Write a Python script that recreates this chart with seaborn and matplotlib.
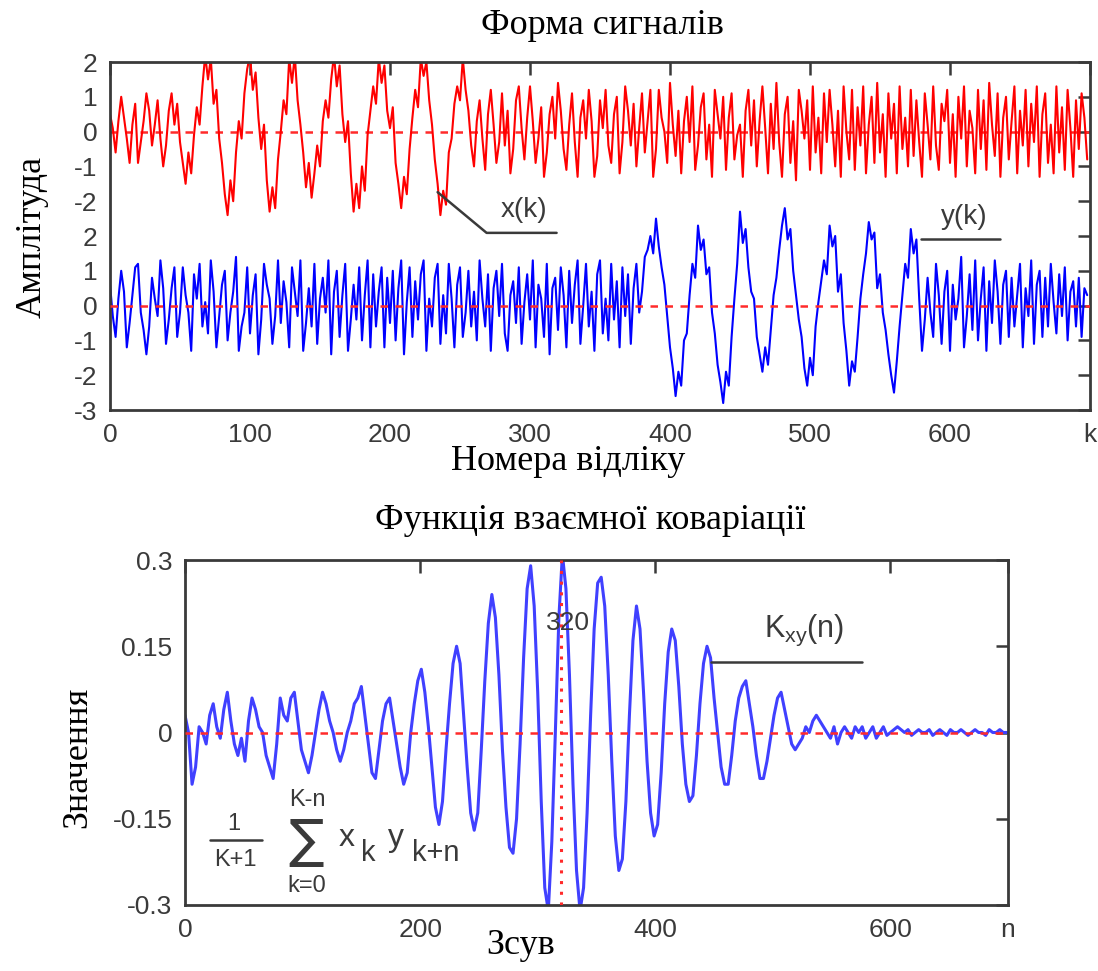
import numpy as np
import matplotlib
matplotlib.use("Agg")
import matplotlib.pyplot as plt
from matplotlib.lines import Line2D
import seaborn as sns

# ---- data -------------------------------------------------------------
# sample index step used for the two signals
K_STEP = 2
# input signal x(k)
x_sig = [
    0.5, 0.1, -0.6, 0.3, 1.0, 0.4, -0.2, -0.9, 0.2, 0.8,
    -0.9, -0.3, 0.3, 1.1, 0.6, -0.4, 0.2, 0.9, -0.2, -1.0,
    -0.4, 0.6, 1.1, 0.2, 0.8, -0.3, -0.9, -1.5, -0.6, -1.2,
    -0.1, 0.7, 0.2, 1.3, 2.2, 1.5, 2.1, 0.8, 1.2, -0.2,
    -0.9, -1.8, -2.4, -1.4, -2.0, -0.6, 0.3, -0.2, 1.1, 1.8,
    2.2, 1.2, 1.7, 0.4, -0.5, 0.2, -1.4, -2.3, -1.6, -2.2,
    -0.8, 0.0, 0.9, 0.5, 2.1, 1.4, 2.2, 0.9, 0.2, -0.6,
    -1.6, -0.9, -1.9, -1.2, -0.4, -1.0, 0.3, 0.9, 0.4, 1.5,
    2.2, 1.3, 1.9, 0.5, -0.3, 0.3, -1.2, -2.3, -1.5, -2.2,
    -1.0, -1.7, -0.1, 0.6, 1.3, 0.8, 2.1, 1.4, 1.9, 0.6,
    0.1, 0.7, -0.9, -1.5, -2.2, -1.3, -1.8, -0.5, 0.4, 1.2,
    0.7, 2.1, 1.6, 2.0, 0.9, 0.2, -0.8, -1.5, -2.4, -1.7,
    -2.1, -0.6, -0.2, 0.8, 1.3, 0.9, 2.1, 1.2, 0.6, -0.4,
    -1.0, 0.3, 0.9, -0.2, -1.1, 0.5, 1.2, 0.2, -0.9, -0.3,
    1.1, -0.4, 0.6, -1.2, -0.5, 0.9, 1.3, 0.1, -0.8, 0.4,
    1.3, 0.3, -0.9, -0.2, 0.7, -1.3, -0.6, 0.5, 1.0, -0.2,
    1.4, 0.6, -0.5, -1.1, 0.2, 1.1, -0.3, -1.3, 0.4, 0.9,
    -0.2, 1.2, 0.3, -1.3, -0.7, 0.9, 0.1, 1.2, -0.4, -0.9,
    0.5, 1.0, -1.2, -0.3, 1.3, 0.6, -0.4, 0.8, -1.0, 0.1,
    1.1, -0.6, 0.3, 1.2, -1.3, -0.5, 1.2, 0.4, 0.0, -0.9,
    1.4, 0.2, -0.7, 0.6, -1.2, 0.3, 1.0, -0.3, 1.3, -1.1,
    -0.4, 0.7, 1.1, -0.8, 0.2, -1.3, 1.2, 0.5, -0.2, 1.0,
    -1.1, 0.4, 1.1, -0.8, -0.1, 0.2, -1.3, 0.6, 1.2, -0.4,
    0.9, -1.0, 0.3, 1.3, 0.1, -1.2, 0.8, -0.5, 1.4, -0.3,
    -1.3, 0.5, 1.0, -0.9, 0.3, -1.4, 1.2, 0.6, -0.2, 0.9,
    -1.1, 1.3, -0.6, 0.4, -1.2, 1.1, -0.3, 1.2, 0.2, -1.0,
    0.6, -1.3, 1.3, 0.0, -0.8, 1.2, -1.1, 0.7, -0.4, 1.3,
    -1.2, 0.2, 1.0, -0.9, 1.4, -0.6, 0.5, -1.3, 1.1, -0.2,
    0.8, -1.2, 1.3, -0.5, 0.4, -1.0, 1.2, -0.7, 0.9, -0.3,
    -1.3, 1.1, 0.2, -0.8, 1.3, -0.4, -1.1, 0.8, 0.3, 1.2,
    -0.9, 0.5, -1.3, 1.0, -0.2, 1.3, -1.0, 0.6, 0.1, -1.2,
    1.2, -0.5, 0.9, -1.1, 1.4, 0.2, -0.7, 1.1, -1.3, 0.4,
    1.0, -0.8, 0.3, 1.3, -1.2, 0.6, -0.4, 1.2, -1.0, 0.8,
    -0.3, 1.3, -1.3, 0.5, 1.1, -0.9, 0.2, -1.2, 1.3, -0.6,
    0.7, -1.1, 1.2, 0.1, -1.3, 0.9, -0.5, 1.1, 0.4, -0.8,
]
# output signal y(k)
y_sig = [
    0.6, -0.3, -0.9, 0.2, 1.0, 0.4, -1.2, -0.5, 0.3, 1.1,
    1.2, -0.2, -0.7, -1.4, -0.6, 0.8, 0.2, -0.3, 1.3, 0.5,
    -1.1, -0.4, 0.5, 1.1, -0.9, -0.2, 1.1, 0.3, -0.2, -1.3,
    0.9, 0.2, 1.2, -0.6, 0.1, -0.8, 1.3, 0.4, -1.2, -0.3,
    0.6, 1.0, -1.0, -0.2, 0.4, 1.4, -1.3, -0.6, -0.2, 1.1,
    -0.8, 0.3, 0.9, -1.4, -0.4, 1.2, 0.6, 0.2, -1.1, -0.3,
    1.3, -0.5, 0.7, 0.1, -1.2, 1.1, 0.4, -0.3, 1.3, -1.3,
    -0.5, 0.5, -0.6, 1.2, -1.1, 0.2, 0.8, -0.2, 1.3, -1.4,
    0.4, 1.0, -0.9, 0.3, 1.2, -1.3, -0.4, 0.6, -0.4, 1.1,
    -1.0, 0.3, 1.3, -1.2, 0.9, -0.6, 0.4, 1.1, -1.2, 0.8,
    -0.5, 1.0, -1.0, 0.5, 1.3, -1.4, 0.1, 1.1, -0.9, 0.7,
    -0.4, 0.9, 1.3, -1.3, 0.2, -0.6, 0.8, 1.2, -1.1, 0.3,
    -0.8, 1.2, 0.2, -1.2, 0.6, 1.1, -0.9, -0.2, 1.0, -0.6,
    0.4, -1.0, 1.3, 0.2, -0.6, 0.9, -1.3, 0.5, 1.0, -0.3,
    1.2, -0.8, -1.3, 0.3, 0.7, -0.5, 1.1, -1.1, 0.1, 0.9,
    -0.4, 1.3, -1.2, 0.6, 0.2, -0.9, 1.2, -1.4, 0.5, 0.8,
    -0.7, 1.1, 0.3, -1.2, 1.0, -0.5, 0.6, 1.3, -1.1, 0.0,
    1.2, -0.6, 0.4, -1.3, 0.9, 1.3, -0.8, 0.2, -1.0, 1.2,
    -0.4, 0.7, -1.2, 1.1, -0.3, 0.9, -1.1, 0.5, 1.2, -0.2,
    0.4, 1.4, 1.6, 2.0, 1.5, 2.5, 1.7, 1.1, 0.6, -0.3,
    -1.2, -1.8, -2.6, -1.9, -2.3, -1.0, -0.8, 0.3, 1.2, 0.8,
    2.3, 1.6, 1.9, 0.9, 1.1, -0.2, -0.8, -1.7, -2.2, -2.8,
    -1.9, -2.3, -0.9, 0.2, 1.2, 2.7, 1.8, 2.2, 1.1, 0.4,
    0.2, -0.9, -1.4, -1.9, -1.2, -1.7, -0.7, 0.3, 0.8, 1.6,
    2.3, 2.8, 1.9, 2.2, 1.0, 0.3, -0.4, -0.9, -1.8, -2.3,
    -1.5, -2.0, -0.6, 0.1, 0.7, 1.3, 0.9, 2.3, 1.7, 2.0,
    0.4, 0.9, -0.5, -1.3, -2.3, -1.6, -1.9, -0.9, 0.2, 0.9,
    1.5, 2.4, 1.9, 2.1, 0.5, 0.9, -0.2, -0.7, -1.4, -2.0,
    -2.5, -1.6, -0.6, 0.3, 1.2, 0.8, 2.2, 1.5, 1.9, 0.2,
    -1.3, -0.4, 0.8, -0.2, -0.9, 1.2, 0.3, -1.1, 0.4, 1.0,
    -1.3, 0.6, -0.4, 0.2, 1.4, -1.2, -0.3, 0.9, -0.7, 1.3,
    -1.0, 0.2, 1.1, -1.3, 0.7, -0.5, 1.3, 0.4, -1.1, 0.6,
    1.0, -0.9, 0.8, -0.6, 0.3, 1.2, -1.2, 0.5, -0.3, 1.3,
    -1.1, 0.6, 1.0, -0.9, 0.8, -0.6, 1.2, 0.1, -0.8, 0.9,
    -0.3, 1.1, -1.0, 0.4, 0.7, -0.6, 0.8, -0.9, 0.5, 0.3,
]
# lag step used for the covariance estimate
N_STEP = 3
# cross-covariance K_xy(n)
kxy = [
    0.03, 0.00, -0.09, -0.06, 0.01, 0.00, -0.02, 0.03, 0.05, 0.01,
    -0.01, 0.04, 0.07, 0.02, -0.02, -0.04, -0.01, -0.05, 0.02, 0.06,
    0.04, 0.01, 0.00, -0.04, -0.06, -0.08, -0.02, 0.06, 0.03, 0.02,
    0.06, 0.07, 0.02, -0.03, -0.05, -0.07, -0.04, 0.00, 0.04, 0.07,
    0.05, 0.02, 0.00, -0.03, -0.05, -0.03, 0.00, 0.02, 0.05, 0.06,
    0.08, 0.03, -0.02, -0.07, -0.08, -0.03, 0.02, 0.05, 0.06, 0.02,
    -0.02, -0.06, -0.09, -0.07, 0.00, 0.05, 0.09, 0.11, 0.07, 0.01,
    -0.06, -0.13, -0.16, -0.12, -0.03, 0.05, 0.12, 0.15, 0.12, 0.03,
    -0.06, -0.14, -0.17, -0.14, -0.03, 0.09, 0.19, 0.24, 0.20, 0.10,
    -0.03, -0.13, -0.20, -0.21, -0.15, -0.02, 0.13, 0.25, 0.29, 0.22,
    0.07, -0.12, -0.27, -0.31, -0.19, 0.00, 0.20, 0.31, 0.25, 0.10,
    -0.09, -0.24, -0.31, -0.27, -0.14, 0.03, 0.18, 0.26, 0.27, 0.22,
    0.10, -0.05, -0.18, -0.24, -0.22, -0.12, 0.03, 0.16, 0.22, 0.18,
    0.07, -0.05, -0.14, -0.18, -0.16, -0.07, 0.05, 0.14, 0.18, 0.16,
    0.08, -0.02, -0.09, -0.12, -0.11, -0.04, 0.05, 0.12, 0.15, 0.13,
    0.06, 0.00, -0.06, -0.09, -0.09, -0.04, 0.02, 0.06, 0.08, 0.09,
    0.05, 0.01, -0.04, -0.08, -0.08, -0.05, -0.01, 0.03, 0.06, 0.07,
    0.04, 0.01, -0.02, -0.03, -0.02, -0.01, 0.01, 0.00, 0.02, 0.03,
    0.02, 0.01, 0.00, -0.01, 0.01, -0.02, 0.00, 0.01, 0.00, -0.01,
    0.01, 0.00, 0.01, -0.01, 0.00, 0.01, -0.01, 0.00, 0.01, -0.005,
    0.00, 0.005, 0.01, 0.005, 0.00, 0.005, -0.005, 0.00, 0.005, 0.00,
    0.00, 0.005, -0.005, 0.00, 0.005, 0.00, -0.005, 0.005, 0.00, 0.00,
    0.005, 0.00, -0.005, 0.00, 0.005, 0.00, 0.00, -0.005, 0.005, 0.00,
    0.00, 0.005, 0.00, 0.00,
]
PEAK_LAG = 320

k_ticks = [0, 100, 200, 300, 400, 500, 600, 700]
k_ticklabels = ["0", "100", "200", "300", "400", "500", "600", "k"]
n_ticks = [0, 200, 400, 600, 700]
n_ticklabels = ["0", "200", "400", "600", "n"]
# x(k) is drawn shifted up above y(k)
X_SHIFT = 5
amp_ticks = [-3, -2, -1, 0, 1, 2, 3, 4, 5, 6, 7]
amp_ticklabels = ["-3", "-2", "-1", "0", "1", "2", "-2", "-1", "0", "1", "2"]
cov_ticks = [-0.3, -0.15, 0, 0.15, 0.3]
cov_ticklabels = ["-0.3", "-0.15", "0", "0.15", "0.3"]

# ---- styling ----------------------------------------------------------
sns.set_style("white")
plt.rcParams["font.family"] = ["Liberation Sans", "DejaVu Sans"]
plt.rcParams["mathtext.fontset"] = "custom"
plt.rcParams["mathtext.rm"] = "Liberation Sans"
plt.rcParams["mathtext.it"] = "Liberation Sans"
plt.rcParams["mathtext.sf"] = "Liberation Sans"

FRAME = "#3a3a3a"
TXT = "#3a3a3a"
SERIF = ["Liberation Serif", "DejaVu Serif"]

W, H = 1098, 971
fig = plt.figure(figsize=(W / 100, H / 100), dpi=100)
fig.patch.set_facecolor("white")


def px_axes(left, top, right, bottom):
    return fig.add_axes([left / W, 1 - bottom / H, (right - left) / W, (bottom - top) / H])


def px_text(x, y, s, **kw):
    kw.setdefault("ha", "center")
    kw.setdefault("va", "center")
    return fig.text(x / W, 1 - y / H, s, **kw)


def style_axes(ax):
    for sp in ax.spines.values():
        sp.set_color(FRAME)
        sp.set_linewidth(2)
    ax.tick_params(direction="in", length=9, width=1.8, color=FRAME,
                   top=True, right=True, labelsize=19, labelcolor=TXT, pad=9)


# ---- upper panel: the two signals --------------------------------------
ax1 = px_axes(110, 62, 1090, 410)
k = np.arange(len(x_sig)) * K_STEP
x_arr = np.asarray(x_sig)
y_arr = np.asarray(y_sig)
ax1.axhline(0, color="#ff2a2a", lw=1.8, ls=(0, (3, 3)), zorder=3)
ax1.axhline(X_SHIFT, color="#ff2a2a", lw=1.8, ls=(0, (3, 3)), zorder=1)
sns.lineplot(x=k, y=x_arr + X_SHIFT, ax=ax1, color="#ff0000", lw=1.5,
             estimator=None, sort=False, zorder=2)
sns.lineplot(x=np.arange(len(y_sig)) * K_STEP, y=y_arr, ax=ax1, color="#0000ff",
             lw=1.5, estimator=None, sort=False, zorder=2)
ax1.set_xlim(0, 700)
ax1.set_ylim(-3, 7)
ax1.set_xticks(k_ticks, k_ticklabels)
ax1.set_yticks(amp_ticks, amp_ticklabels)
ax1.set_xlabel("")
ax1.set_ylabel("")
style_axes(ax1)

# signal labels with leader lines
ax1.plot([234, 269, 319], [3.26, 2.09, 2.09], color="#3a3a3a", lw=1.8, zorder=4)
ax1.text(296, 2.75, "x(k)", fontsize=20, color=TXT, ha="center", va="center")
ax1.plot([579, 636], [1.92, 1.92], color="#3a3a3a", lw=1.8, zorder=4)
ax1.text(610, 2.55, "y(k)", fontsize=20, color=TXT, ha="center", va="center")

# ---- lower panel: cross-covariance ------------------------------------
ax2 = px_axes(185, 560, 1008, 905)
n = np.arange(len(kxy)) * N_STEP
ax2.axhline(0, color="#ff2a2a", lw=1.8, ls=(0, (3, 3)), zorder=3)
ax2.axvline(PEAK_LAG, color="#ff2a2a", lw=2.2, ls=(0, (1, 2.5)), zorder=3)
sns.lineplot(x=n, y=np.asarray(kxy), ax=ax2, color="#4040ff", lw=2.2,
             estimator=None, sort=False, zorder=2)
ax2.set_xlim(0, 700)
ax2.set_ylim(-0.3, 0.3)
ax2.set_xticks(n_ticks, n_ticklabels)
ax2.set_yticks(cov_ticks, cov_ticklabels)
ax2.set_xlabel("")
ax2.set_ylabel("")
style_axes(ax2)

ax2.text(PEAK_LAG + 6, 0.19, str(PEAK_LAG), fontsize=19, color=TXT,
         ha="center", va="center")
ax2.plot([447, 576], [0.122, 0.122], color="#3a3a3a", lw=1.8, zorder=4)
ax2.text(527, 0.178, r"K$_{\mathregular{xy}}$(n)", fontsize=22, color=TXT,
         ha="center", va="center")

# estimator formula: 1/(K+1) * sum_{k=0}^{K-n} x_k y_{k+n}
px_text(234, 824, "1", fontsize=17, color=TXT)
fig.add_artist(Line2D([210 / W, 262 / W], [1 - 840 / H, 1 - 840 / H],
                      color=TXT, lw=1.8, transform=fig.transFigure))
px_text(235, 860, "K+1", fontsize=17, color=TXT)
px_text(306, 842, "\u2211", fontsize=38, color=TXT,
        family=["DejaVu Sans", "Liberation Sans"])
px_text(307, 800, "K-n", fontsize=17, color=TXT)
px_text(307, 886, "k=0", fontsize=17, color=TXT)
px_text(347, 838, "x", fontsize=23, color=TXT)
px_text(368, 853, "k", fontsize=21, color=TXT)
px_text(396, 838, "y", fontsize=23, color=TXT)
px_text(436, 853, "k+n", fontsize=21, color=TXT)

# ---- titles and axis names --------------------------------------------
px_text(602, 26, "Форма сигналів", family=SERIF, fontsize=26, color="black")
px_text(568, 462, "Номера відліку", family=SERIF, fontsize=26, color="black")
px_text(32, 237, "Амплітуда", family=SERIF, fontsize=26, rotation=90,
        color="black")
px_text(590, 520, "Функція взаємної коваріації", family=SERIF, fontsize=26,
        color="black")
px_text(521, 945, "Зсув", family=SERIF, fontsize=26, color="black")
px_text(78, 757, "Значення", family=SERIF, fontsize=26, rotation=90,
        color="black")

fig.savefig("out.png", dpi=100, facecolor="white")
